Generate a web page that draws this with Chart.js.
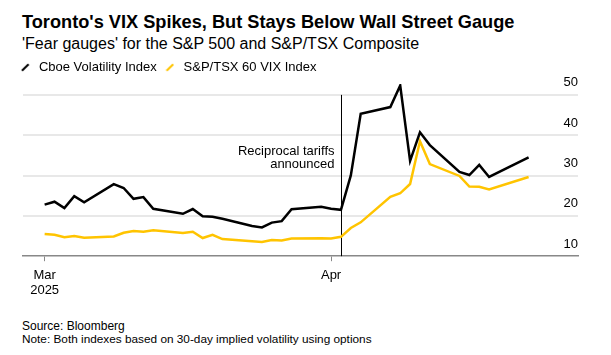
<!DOCTYPE html>
<html>
<head>
<meta charset="utf-8">
<script src="https://cdn.jsdelivr.net/npm/chart.js@4"></script>
<style>
  html, body { margin: 0; padding: 0; background: #fff; }
  body { font-family: "Liberation Sans", Arial, sans-serif; color: #000; }
  #wrap { position: relative; width: 611px; height: 355px; overflow: hidden; }
  .t { position: absolute; left: 22px; white-space: nowrap; }
  #title { top: 11px; font-size: 18.2px; font-weight: bold; line-height: 22px; }
  #sub { top: 34px; font-size: 16px; line-height: 20px; }
  #src { top: 320px; font-size: 12px; line-height: 13px; }
  #note { top: 333px; font-size: 11.8px; line-height: 13px; }
  #cw { position: absolute; left: 0; top: 50px; width: 611px; height: 256px; }
</style>
</head>
<body>
<div id="wrap">
  <div class="t" id="title">Toronto's VIX Spikes, But Stays Below Wall Street Gauge</div>
  <div class="t" id="sub">'Fear gauges' for the S&amp;P 500 and S&amp;P/TSX Composite</div>
  <div id="cw"><canvas id="c"></canvas></div>
  <div class="t" id="src">Source: Bloomberg</div>
  <div class="t" id="note">Note: Both indexes based on 30-day implied volatility using options</div>
</div>
<script>
// Trading dates, as day numbers counted from March 1, 2025 (Mar 1 = 0)
const dates = ['Mar 3','Mar 4','Mar 5','Mar 6','Mar 7','Mar 10','Mar 11','Mar 12','Mar 13','Mar 14',
  'Mar 17','Mar 18','Mar 19','Mar 20','Mar 21','Mar 24','Mar 25','Mar 26','Mar 27','Mar 28','Mar 31',
  'Apr 1','Apr 2','Apr 3','Apr 4','Apr 7','Apr 8','Apr 9','Apr 10','Apr 11','Apr 14','Apr 15','Apr 16','Apr 17','Apr 21'];
const days = [2,3,4,5,6,9,10,11,12,13,16,17,18,19,20,23,24,25,26,27,30,31,32,33,34,37,38,39,40,41,44,45,46,47,51];

const seriesNames = ['Cboe Volatility Index', 'S&P/TSX 60 VIX Index'];

const vixValues = [22.78,23.51,21.93,24.87,23.37,27.86,26.92,24.23,24.66,21.77,
  20.51,21.70,19.90,19.80,19.28,17.48,17.15,18.33,18.69,21.65,22.28,
  21.77,21.51,30.02,45.31,46.98,52.33,33.62,40.72,37.56,30.89,30.12,32.64,29.65,34.5];

const tsxValues = [15.5,15.3,14.7,15.0,14.6,14.9,15.8,16.25,16.05,16.45,
  15.75,16.05,14.5,15.3,14.25,13.7,13.5,14.0,13.9,14.4,14.45,
  14.4,14.8,17.0,18.4,24.7,25.6,27.9,38.5,32.85,29.9,27.25,27.2,26.55,29.65];

const xTickDays = [2, 31];
const xTickLabels = [['Mar', '2025'], ['Apr']];
const yTicks = [10, 20, 30, 40, 50];

const eventDay = 32; // Apr 2
const eventLabel = ['Reciprocal tariffs', 'announced'];

const seriesColors = ['#000000', '#ffc400'];

const FONT = '"Liberation Sans", Arial, sans-serif';
Chart.defaults.font.family = FONT;
Chart.defaults.color = '#000';

// small slash marker used as the legend symbol
function slash(color) {
  const c = document.createElement('canvas');
  c.width = 9; c.height = 9;
  const g = c.getContext('2d');
  g.strokeStyle = color;
  g.lineWidth = 2;
  g.lineCap = 'butt';
  g.beginPath();
  g.moveTo(1.2, 7.8);
  g.lineTo(7.8, 1.2);
  g.stroke();
  return c;
}

const legendShift = {
  id: 'legendShift',
  afterLayout(chart) {
    const l = chart.legend;
    if (l) { l.left -= 11; l.right -= 11; }
  }
};

const eventMarker = {
  id: 'eventMarker',
  beforeDatasetsDraw(chart) {
    const { ctx, scales: { x, y } } = chart;
    const px = Math.round(x.getPixelForValue(eventDay)) + 0.5;
    const top = y.getPixelForValue(50);
    const bottom = y.getPixelForValue(10);
    ctx.save();
    ctx.strokeStyle = '#000';
    ctx.lineWidth = 1;
    ctx.beginPath();
    ctx.moveTo(px, top);
    ctx.lineTo(px, bottom);
    ctx.stroke();
    ctx.font = '13px ' + FONT;
    ctx.fillStyle = '#000';
    ctx.textAlign = 'right';
    ctx.textBaseline = 'middle';
    ctx.fillText(eventLabel[0], px - 7, top + 56.5);
    ctx.fillText(eventLabel[1], px - 7, top + 70);
    ctx.restore();
  }
};

const toPoints = vals => days.map((d, i) => ({ x: d, y: vals[i] }));

new Chart(document.getElementById('c'), {
  type: 'line',
  data: {
    datasets: [
      {
        label: seriesNames[0],
        data: toPoints(vixValues),
        borderColor: seriesColors[0],
        backgroundColor: seriesColors[0],
        borderWidth: 2.5,
        pointRadius: 0,
        pointHoverRadius: 0,
        tension: 0
      },
      {
        label: seriesNames[1],
        data: toPoints(tsxValues),
        borderColor: seriesColors[1],
        backgroundColor: seriesColors[1],
        borderWidth: 2.5,
        pointRadius: 0,
        pointHoverRadius: 0,
        tension: 0
      }
    ]
  },
  options: {
    responsive: true,
    maintainAspectRatio: false,
    animation: false,
    events: [],
    layout: { padding: { left: 23, right: 33, top: 5, bottom: 1.6 } },
    plugins: {
      legend: {
        position: 'top',
        align: 'start',
        labels: {
          usePointStyle: true,
          pointStyleWidth: 14.4,
          boxHeight: 5.4,
          padding: 6,
          color: '#000',
          font: { size: 13, family: FONT },
          generateLabels: chart => Chart.defaults.plugins.legend.labels.generateLabels(chart)
            .map((item, i) => Object.assign(item, { pointStyle: slash(seriesColors[i]) }))
        }
      },
      tooltip: { enabled: false }
    },
    scales: {
      x: {
        type: 'linear',
        min: -0.19,
        max: 56,
        afterBuildTicks: s => { s.ticks = xTickDays.map(v => ({ value: v })); },
        ticks: {
          autoSkip: false,
          maxRotation: 0,
          padding: 6,
          color: '#000',
          font: { size: 13, family: FONT },
          callback: v => { const i = xTickDays.indexOf(v); return i >= 0 ? xTickLabels[i] : ''; }
        },
        grid: { drawOnChartArea: false, drawTicks: true, tickLength: 5, color: '#888', lineWidth: 1 },
        border: { display: true, color: '#888', width: 1.5 }
      },
      y: {
        position: 'right',
        min: 10,
        max: 52.7,
        afterBuildTicks: s => { s.ticks = yTicks.map(v => ({ value: v })); },
        ticks: {
          mirror: true,
          padding: 0,
          labelOffset: -12,
          color: '#000',
          font: { size: 13, family: FONT }
        },
        grid: {
          drawTicks: false,
          lineWidth: 2,
          color: c => (c.tick && c.tick.value === 10) ? 'rgba(0,0,0,0)' : '#e8e8e8'
        },
        border: { display: false }
      }
    }
  },
  plugins: [legendShift, eventMarker]
});
</script>
</body>
</html>
